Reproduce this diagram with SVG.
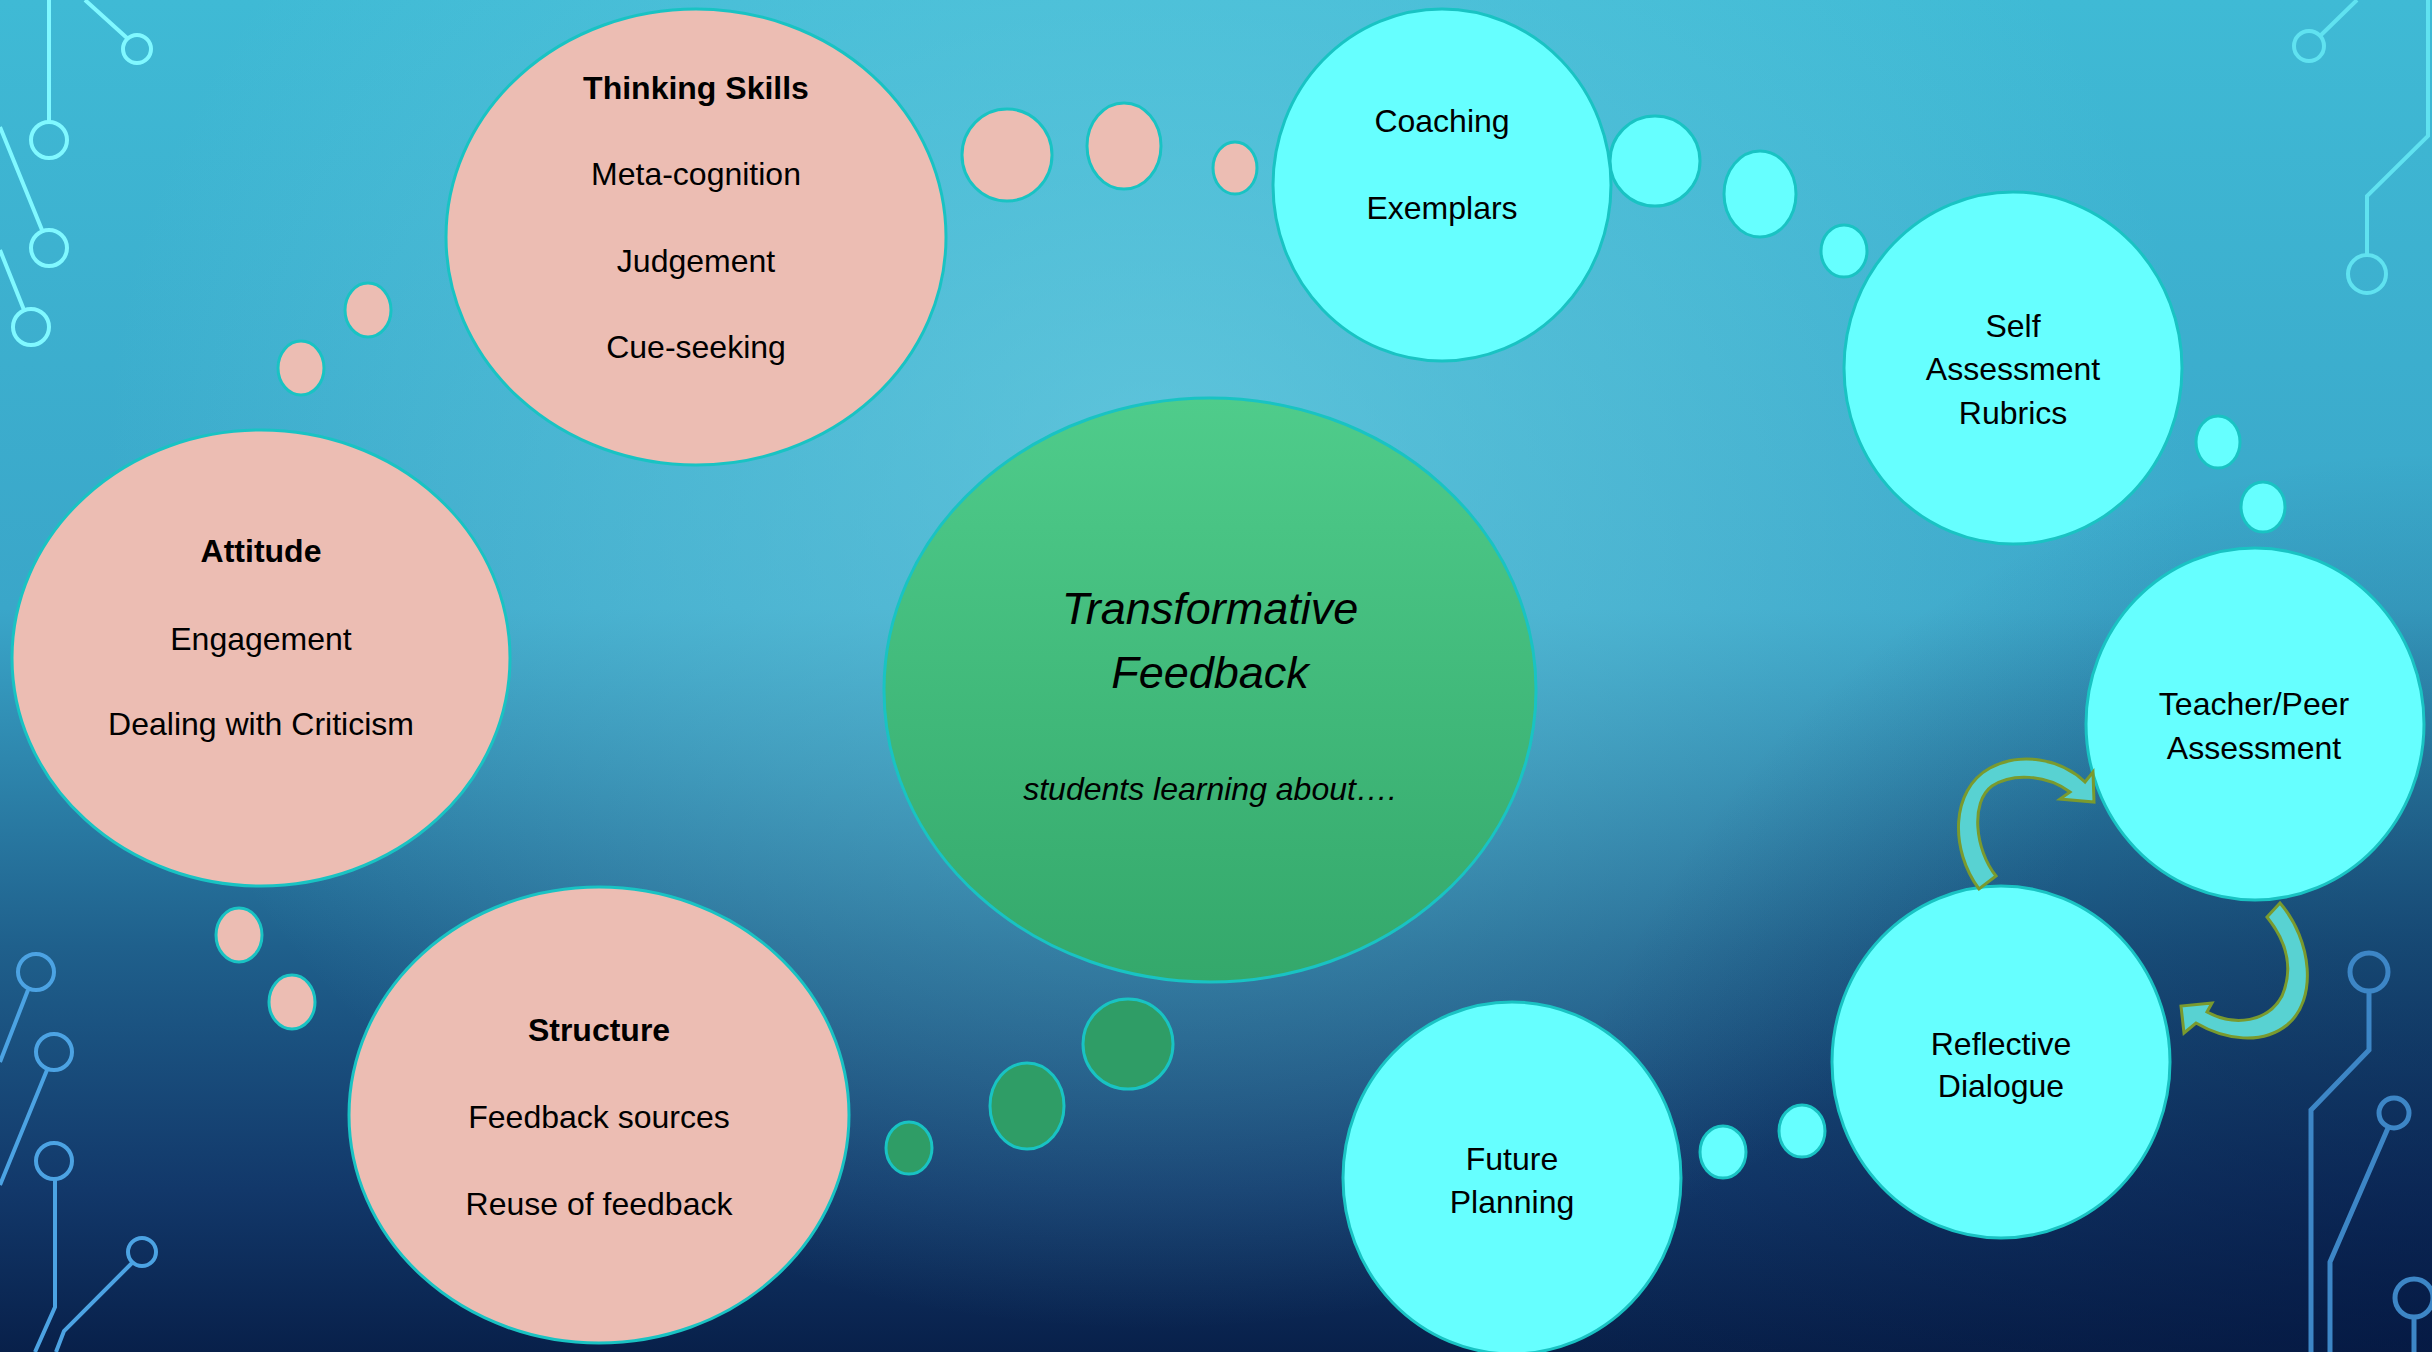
<svg xmlns="http://www.w3.org/2000/svg" width="2432" height="1352" viewBox="0 0 2432 1352">
<defs>
<linearGradient id="bgv" x1="0" y1="0" x2="0" y2="1">
<stop offset="0" stop-color="#3fbad5"/>
<stop offset="0.45" stop-color="#3aa6c9"/>
<stop offset="0.7" stop-color="#1f608c"/>
<stop offset="0.88" stop-color="#12386a"/>
<stop offset="1" stop-color="#08204a"/>
</linearGradient>
<radialGradient id="bgr" gradientUnits="userSpaceOnUse" cx="1150" cy="450" r="1100" gradientTransform="translate(1150 450) scale(0.95 0.8) translate(-1150 -450)">
<stop offset="0" stop-color="#78d6e6" stop-opacity="0.55"/>
<stop offset="0.5" stop-color="#6fd0e2" stop-opacity="0.32"/>
<stop offset="1" stop-color="#6fd0e2" stop-opacity="0"/>
</radialGradient>
<radialGradient id="bgd" gradientUnits="userSpaceOnUse" cx="2432" cy="1352" r="900">
<stop offset="0" stop-color="#041640" stop-opacity="0.6"/>
<stop offset="1" stop-color="#041640" stop-opacity="0"/>
</radialGradient>
<linearGradient id="grn" x1="0" y1="0" x2="0" y2="1">
<stop offset="0" stop-color="#4fcc8b"/>
<stop offset="1" stop-color="#34a86b"/>
</linearGradient>
<style>
.sal{fill:#ecbdb3;stroke:#19c3c3;stroke-width:3}
.cyn{fill:#66ffff;stroke:#19c3c3;stroke-width:3}
.gb{fill:#2f9d66;stroke:#19c3c3;stroke-width:3}
.t{font-family:"Liberation Sans",Arial,sans-serif;font-size:32px;fill:#000;text-anchor:middle}
.b{font-weight:bold}
.it{font-style:italic}
.c1{fill:none;stroke:#80f8ff;stroke-width:4}
.c2{fill:none;stroke:#60e2f0;stroke-width:4}
.c3{fill:none;stroke:#4ca3e3;stroke-width:4}
.c4{fill:none;stroke:#3d86c6;stroke-width:5}
.arw{fill:#58d2d2;stroke:#7a9a2e;stroke-width:3;stroke-linejoin:miter}
</style>
</defs>
<rect width="2432" height="1352" fill="url(#bgv)"/>
<rect width="2432" height="1352" fill="url(#bgr)"/>
<rect width="2432" height="1352" fill="url(#bgd)"/>

<g id="circuits">
<path class="c1" d="M49,0 V121 M85,0 L127,38 M0,127 L42,230 M0,250 L24,310"/>
<circle class="c1" cx="49" cy="140" r="18"/>
<circle class="c1" cx="137" cy="49" r="14"/>
<circle class="c1" cx="49" cy="248" r="18"/>
<circle class="c1" cx="31" cy="327" r="18"/>
<path class="c3" d="M28,990 L0,1062 M47,1070 L0,1185 M55,1180 V1307 L35,1352 M133,1262 L64,1331 L56,1352"/>
<circle class="c3" cx="36" cy="972" r="18"/>
<circle class="c3" cx="54" cy="1052" r="18"/>
<circle class="c3" cx="54" cy="1161" r="18"/>
<circle class="c3" cx="142" cy="1252" r="14"/>
<path class="c2" d="M2320,36 L2357,0 M2428,0 V136 L2367,196 V255"/>
<circle class="c2" cx="2309" cy="46" r="15"/>
<circle class="c2" cx="2367" cy="274" r="19"/>
<path class="c4" d="M2369,991 V1050 L2311,1110 V1352 M2388,1128 L2330,1262 V1352 M2414,1317 V1352"/>
<circle class="c4" cx="2369" cy="972" r="19"/>
<circle class="c4" cx="2394" cy="1113" r="15"/>
<circle class="c4" cx="2414" cy="1298" r="19"/>
</g>

<g id="connectors">
<ellipse class="sal" cx="1007" cy="155" rx="45" ry="46"/>
<ellipse class="sal" cx="1124" cy="146" rx="37" ry="43"/>
<ellipse class="sal" cx="1235" cy="168" rx="22" ry="26"/>
<ellipse class="sal" cx="368" cy="310" rx="23" ry="27"/>
<ellipse class="sal" cx="301" cy="368" rx="23" ry="27"/>
<ellipse class="sal" cx="239" cy="935" rx="23" ry="27"/>
<ellipse class="sal" cx="292" cy="1002" rx="23" ry="27"/>
<ellipse class="gb" cx="1128" cy="1044" rx="45" ry="45"/>
<ellipse class="gb" cx="1027" cy="1106" rx="37" ry="43"/>
<ellipse class="gb" cx="909" cy="1148" rx="23" ry="26"/>
<ellipse class="cyn" cx="1655" cy="161" rx="45" ry="45"/>
<ellipse class="cyn" cx="1760" cy="194" rx="36" ry="43"/>
<ellipse class="cyn" cx="1844" cy="251" rx="23" ry="26"/>
<ellipse class="cyn" cx="2218" cy="442" rx="22" ry="26"/>
<ellipse class="cyn" cx="2263" cy="507" rx="22" ry="25"/>
<ellipse class="cyn" cx="1802" cy="1131" rx="23" ry="26"/>
<ellipse class="cyn" cx="1723" cy="1152" rx="23" ry="26"/>
</g>

<g id="node-center">
<ellipse cx="1210" cy="690" rx="326" ry="292" fill="url(#grn)" stroke="#19c3c3" stroke-width="3"/>
<text class="t it" x="1210" y="624" style="font-size:45px">Transformative</text>
<text class="t it" x="1210" y="688" style="font-size:45px">Feedback</text>
<text class="t it" x="1210" y="800">students learning about….</text>
</g>

<g id="node-thinking">
<ellipse class="sal" cx="696" cy="237" rx="250" ry="228"/>
<text class="t b" x="696" y="99">Thinking Skills</text>
<text class="t" x="696" y="185">Meta-cognition</text>
<text class="t" x="696" y="272">Judgement</text>
<text class="t" x="696" y="358">Cue-seeking</text>
</g>

<g id="node-attitude">
<ellipse class="sal" cx="261" cy="658" rx="249" ry="228"/>
<text class="t b" x="261" y="562">Attitude</text>
<text class="t" x="261" y="650">Engagement</text>
<text class="t" x="261" y="735">Dealing with Criticism</text>
</g>

<g id="node-structure">
<ellipse class="sal" cx="599" cy="1115" rx="250" ry="228"/>
<text class="t b" x="599" y="1041">Structure</text>
<text class="t" x="599" y="1128">Feedback sources</text>
<text class="t" x="599" y="1215">Reuse of feedback</text>
</g>

<g id="node-coaching">
<ellipse class="cyn" cx="1442" cy="185" rx="169" ry="176"/>
<text class="t" x="1442" y="132">Coaching</text>
<text class="t" x="1442" y="219">Exemplars</text>
</g>

<g id="node-self">
<ellipse class="cyn" cx="2013" cy="368" rx="169" ry="176"/>
<text class="t" x="2013" y="337">Self</text>
<text class="t" x="2013" y="380">Assessment</text>
<text class="t" x="2013" y="424">Rubrics</text>
</g>

<g id="node-teacher">
<ellipse class="cyn" cx="2255" cy="724" rx="169" ry="176"/>
<text class="t" x="2254" y="715">Teacher/Peer</text>
<text class="t" x="2254" y="759">Assessment</text>
</g>

<g id="node-reflective">
<ellipse class="cyn" cx="2001" cy="1062" rx="169" ry="176"/>
<text class="t" x="2001" y="1055">Reflective</text>
<text class="t" x="2001" y="1097">Dialogue</text>
</g>

<g id="node-future">
<ellipse class="cyn" cx="1512" cy="1178" rx="169" ry="176"/>
<text class="t" x="1512" y="1170">Future</text>
<text class="t" x="1512" y="1213">Planning</text>
</g>

<g id="cycle-arrows">
<path class="arw" d="M1979,889 C1950,850 1950,790 1990,768 C2020,752 2060,758 2085,782 L2093,772 L2094,802 L2060,799 L2070,792 C2045,774 2012,773 1992,786 C1970,802 1975,850 1996,876 Z"/>
<path class="arw" d="M2280,903 C2312,940 2318,1000 2287,1025 C2262,1045 2225,1040 2196,1023 L2184,1033 L2181,1006 L2212,1003 L2207,1012 C2235,1027 2268,1022 2282,996 C2294,968 2287,942 2267,917 Z"/>
</g>
</svg>
